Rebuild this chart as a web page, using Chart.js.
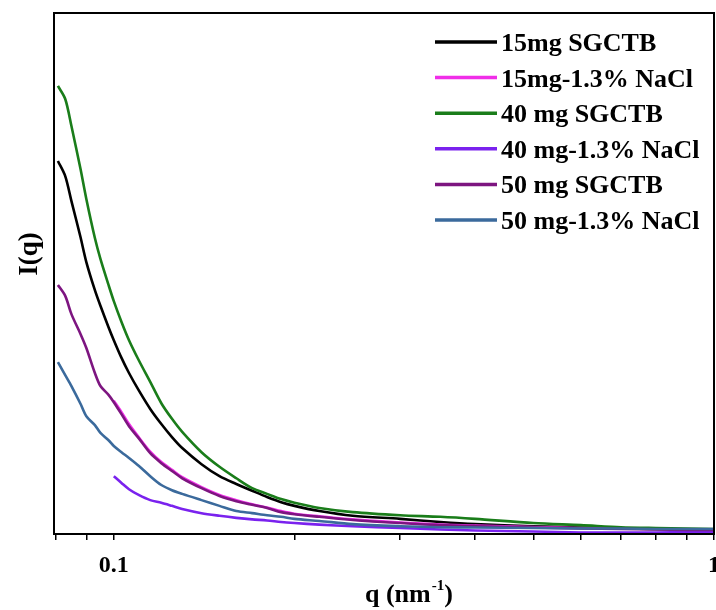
<!DOCTYPE html>
<html lang="en">
<head>
    <meta charset="UTF-8">
    <title>SAXS I(q)</title>
    <style>
        body { margin: 0; background: #fff; overflow: hidden; }
        #wrap { width: 716px; height: 610px; }
    </style>
</head>
<body>
<div id="wrap">
    <canvas id="saxsChart"></canvas>
</div>

<script src="https://cdn.jsdelivr.net/npm/chart.js"></script>

<script>
    // q values (nm^-1) shared by all curves
    const qValues = [0.0807, 0.083, 0.085, 0.088, 0.090, 0.093, 0.095, 0.098, 0.100, 0.103,
        0.106, 0.110, 0.115, 0.12, 0.125, 0.13, 0.14, 0.15, 0.16, 0.17,
        0.18, 0.19, 0.2, 0.22, 0.25, 0.3, 0.35, 0.4, 0.5, 0.6,
        0.7, 0.8, 0.9, 1.0];

    // intensities (arbitrary units)
    const i15mg = [71.6, 68.7, 63.9, 57.0, 52.2, 46.8, 43.8, 39.7, 37.2, 33.8,
        30.9, 27.6, 24.0, 21.1, 18.6, 16.5, 13.4, 11.1, 9.6, 8.3,
        7.1, 6.1, 5.4, 4.4, 3.5, 2.9, 2.3, 1.9, 1.5, 1.25,
        1.06, 0.96, 0.86, 0.77];
    const i15mgNaCl = [null, null, null, null, null, null, null, null, 25.6, 23.4,
        21.1, 18.6, 15.8, 13.8, 12.3, 10.9, 9.0, 7.5, 6.5, 5.7,
        5.1, 4.4, 3.9, 3.4, 2.8, 2.2, 1.8, 1.6, 1.35, 1.15,
        1.05, 0.95, 0.9, 0.85];
    const i40mg = [86.0, 83.5, 78.3, 70.1, 64.3, 56.8, 52.8, 47.8, 44.7, 40.7,
        37.2, 33.4, 29.2, 25.1, 22.1, 19.6, 15.7, 12.9, 10.7, 8.8,
        7.7, 6.7, 6.0, 5.0, 4.2, 3.6, 3.3, 2.9, 2.1, 1.7,
        1.3, 1.15, 1.06, 0.96];
    const i40mgNaCl = [null, null, null, null, null, null, null, null, 11.1, 9.8,
        8.6, 7.5, 6.5, 6.0, 5.4, 4.8, 4.0, 3.5, 3.1, 2.8,
        2.6, 2.3, 2.1, 1.8, 1.5, 1.15, 0.86, 0.67, 0.48, 0.29,
        0.29, 0.29, 0.38, 0.38];
    const i50mg = [47.8, 45.7, 42.2, 38.4, 35.7, 30.9, 28.4, 26.7, 25.3, 23.0,
        20.7, 18.4, 15.5, 13.6, 12.1, 10.7, 8.8, 7.3, 6.3, 5.6,
        5.0, 4.2, 3.8, 3.3, 2.7, 2.1, 1.7, 1.5, 1.25, 1.06,
        0.96, 0.86, 0.77, 0.77];
    const i50mgNaCl = [33.0, 30.5, 28.4, 25.0, 22.6, 20.9, 19.4, 18.0, 16.9, 15.7,
        14.6, 13.1, 11.1, 9.4, 8.4, 7.7, 6.5, 5.4, 4.4, 4.0,
        3.6, 3.3, 2.9, 2.5, 1.9, 1.5, 1.3, 1.25, 1.15, 1.06,
        1.06, 0.96, 0.96, 0.96];

    const seriesLabels = ['15mg SGCTB', '15mg-1.3% NaCl', '40 mg SGCTB',
        '40 mg-1.3% NaCl', '50 mg SGCTB', '50 mg-1.3% NaCl'];
    const seriesData = [i15mg, i15mgNaCl, i40mg, i40mgNaCl, i50mg, i50mgNaCl];
    const seriesColors = ['#000000', '#f02ee8', '#1a7d1a', '#7a22ee', '#7d1580', '#3b6a9c'];

    // x tick positions; only 0.1 and 1 get a label
    const xTicks = [0.08, 0.09, 0.1, 0.2, 0.3, 0.4, 0.5, 0.6, 0.7, 0.8, 0.9, 1];
    const xLabelled = [0.1, 1];

    const serif = "'Liberation Serif', 'Times New Roman', serif";

    function toPoints(values) {
        const pts = [];
        values.forEach((v, i) => {
            if (v !== null) pts.push({ x: qValues[i], y: v });
        });
        return pts;
    }

    // frame, axis titles and legend
    const decorPlugin = {
        id: 'decor',
        afterDraw(chart) {
            const ctx = chart.ctx;
            const a = chart.chartArea;
            ctx.save();
            ctx.strokeStyle = '#000';
            ctx.lineWidth = 2;
            ctx.strokeRect(a.left, a.top, a.right - a.left, a.bottom - a.top);

            ctx.fillStyle = '#000';
            // y title
            ctx.save();
            ctx.translate(37, 254);
            ctx.rotate(-Math.PI / 2);
            ctx.font = 'bold 27px ' + serif;
            ctx.textAlign = 'center';
            ctx.textBaseline = 'alphabetic';
            ctx.fillText('I(q)', 0, 0);
            ctx.restore();

            // x title with superscript
            ctx.textAlign = 'left';
            ctx.textBaseline = 'alphabetic';
            let x = 365;
            ctx.font = 'bold 26px ' + serif;
            ctx.fillText('q (nm', x, 602);
            x += ctx.measureText('q (nm').width;
            ctx.font = 'bold 15px ' + serif;
            ctx.fillText('-1', x + 1, 590);
            x += ctx.measureText('-1').width + 1;
            ctx.font = 'bold 26px ' + serif;
            ctx.fillText(')', x, 602);

            // legend
            ctx.font = 'bold 26px ' + serif;
            chart.data.datasets.forEach((ds, i) => {
                const y = 42 + i * 35.6;
                ctx.strokeStyle = ds.borderColor;
                ctx.lineWidth = 3.5;
                ctx.beginPath();
                ctx.moveTo(435, y);
                ctx.lineTo(497, y);
                ctx.stroke();
                ctx.fillText(ds.label, 501, y + 9);
            });
            ctx.restore();
        }
    };

    const ctx = document.getElementById('saxsChart').getContext('2d');
    const saxsChart = new Chart(ctx, {
        type: 'line',
        data: {
            datasets: seriesLabels.map((label, i) => ({
                label: label,
                data: toPoints(seriesData[i]),
                borderColor: seriesColors[i],
                borderWidth: 2.6,
                pointRadius: 0,
                tension: 0.3,
                fill: false,
                order: seriesLabels.length - i
            }))
        },
        options: {
            responsive: true,
            maintainAspectRatio: false,
            animation: false,
            layout: { padding: { left: 54, top: 13, right: 2, bottom: 0 } },
            plugins: {
                legend: { display: false },
                tooltip: { enabled: false }
            },
            scales: {
                x: {
                    type: 'logarithmic',
                    min: 0.0795,
                    max: 1,
                    afterBuildTicks(scale) {
                        scale.ticks = xTicks.map(v => ({ value: v }));
                    },
                    afterFit(scale) {
                        scale.height = 76;
                        scale.paddingLeft = 0;
                        scale.paddingRight = 0;
                    },
                    grid: {
                        drawOnChartArea: false,
                        drawTicks: true,
                        tickLength: 6,
                        color: '#000',
                        lineWidth: 1.5
                    },
                    border: { display: true, color: '#000', width: 2 },
                    ticks: {
                        autoSkip: false,
                        maxRotation: 0,
                        padding: 11,
                        color: '#000',
                        font: { family: serif, size: 24, weight: 'bold' },
                        callback: (value) => xLabelled.includes(value) ? String(value) : ''
                    }
                },
                y: {
                    display: false,
                    min: 0,
                    max: 100
                }
            }
        },
        plugins: [decorPlugin]
    });
</script>
</body>
</html>
